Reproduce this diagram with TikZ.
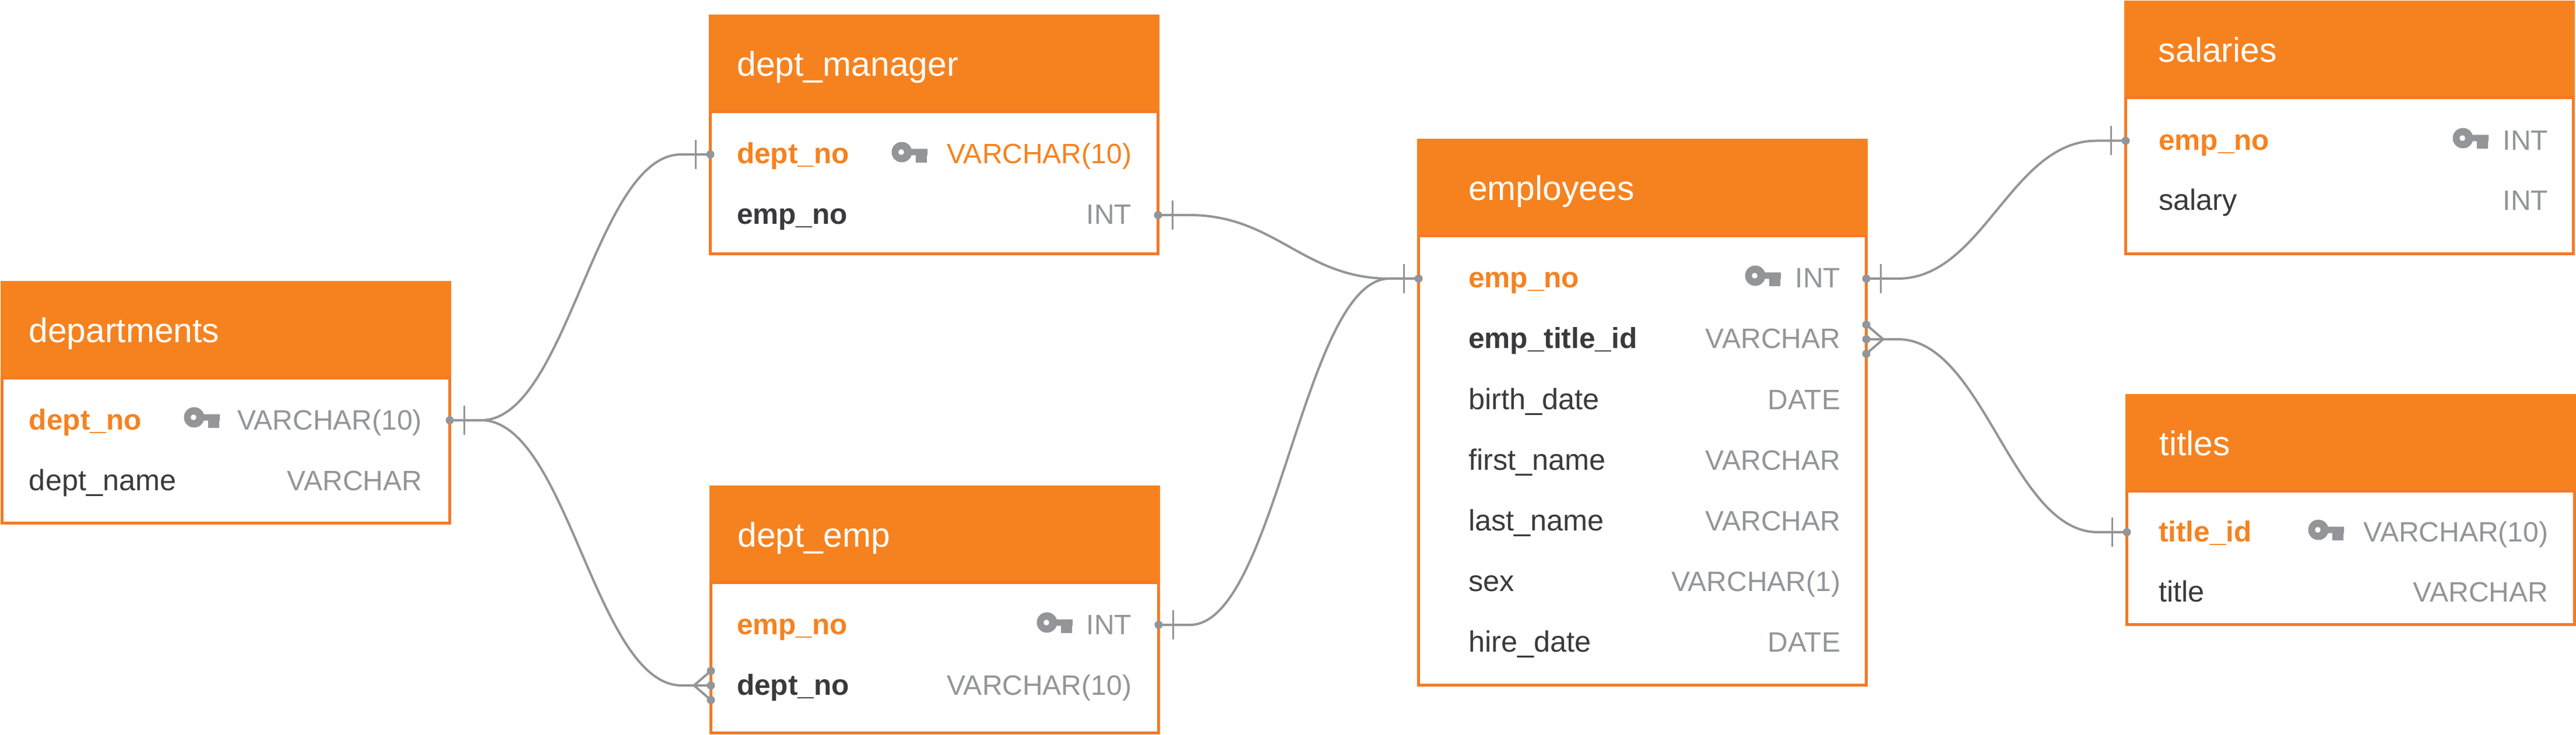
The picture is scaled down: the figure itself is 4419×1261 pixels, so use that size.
\documentclass[tikz,border=0pt]{standalone}
\usepackage{fontspec}
\setmainfont{Liberation Sans}
\usetikzlibrary{calc}
\definecolor{headorange}{HTML}{F6821F}
\definecolor{boxorange}{HTML}{F47A26}
\definecolor{linegray}{HTML}{939598}
\definecolor{fielddark}{HTML}{3A3A3C}
\newcommand{\relate}[2]{
	\coordinate (relstart) at ($(#1)+(54,0)$);
	\coordinate (relend) at ($(#2)+(-50,0)$);
	\draw[relation] (#1) -- (relstart) .. controls ($(relstart)!0.43!(relstart -| relend)$) and ($(relend)!0.43!(relend -| relstart)$) .. (relend) -- (#2);
}
\begin{document}
\begin{tikzpicture}[x=0.25pt,y=-0.25pt]
	\tikzset{tablehead/.style={draw=headorange,fill=headorange,line width=1.25pt,text=white,font=\fontsize{14.7}{16}\selectfont,anchor=north west,align=left,text width=169pt,inner xsep=11.5pt,inner ysep=0pt,outer sep=0pt,minimum height=41pt,text height=10.5pt,text depth=0pt}}
	\tikzset{tablebody/.style={draw=boxorange,fill=white,line width=1.25pt,anchor=north west,inner sep=0pt,outer sep=0pt,minimum width=192pt}}
	\tikzset{field/.style={anchor=west,inner sep=0pt,outer sep=0pt,font=\fontsize{12.6}{14}\selectfont,text=fielddark,text height=8pt,text depth=0pt}}
	\tikzset{keyfield/.style={field,font=\fontsize{12.4}{14}\selectfont\bfseries,text=headorange}}
	\tikzset{linkfield/.style={field,font=\fontsize{12.4}{14}\selectfont\bfseries}}
	\tikzset{sqltype/.style={field,anchor=east,font=\fontsize{12}{14}\selectfont,text=linegray}}
	\tikzset{relation/.style={draw=linegray,line width=1pt}}
	\tikzset{keyicon/.pic={
		\fill[linegray,even odd rule] (0,0) circle[radius=17.5] (-1,0) circle[radius=5];
		\fill[linegray] (10,-5.5) rectangle (44,5.5) (24,5.5) rectangle (43,18);
	}}
	\tikzset{onemark/.pic={
		\fill[linegray] (0,0) circle[radius=7];
		\draw[linegray,line width=0.8pt] (25,-25) -- (25,25);
	}}
	\tikzset{manymark/.pic={
		\fill[linegray] (0,-25) circle[radius=7] (0,0) circle[radius=7] (0,25) circle[radius=7];
		\draw[linegray,line width=1pt] (0,-25) -- (29,0) -- (0,25);
	}}
	\useasboundingbox (0,0) rectangle (4419,1261);

	% departments
	\node[tablehead] (departments) at (3.5,484.5) {departments};
	\node[tablebody,minimum height=62.25pt] (departments_body) at (departments.south west) {};
	\node[keyfield] (departments_dept_no) at (50,721) {dept\_no};
	\node[field] (departments_dept_name) at (50,825) {dept\_name};
	\node[sqltype] (departments_dept_no_type) at (724,721) {VARCHAR(10)};
	\node[sqltype] (departments_dept_name_type) at (724,825) {VARCHAR};
	\pic at (333,716) {keyicon};

	% dept_manager
	\node[tablehead] (dept_manager) at (1218.5,27.5) {dept\_manager};
	\node[tablebody,minimum height=61pt] (dept_manager_body) at (dept_manager.south west) {};
	\node[keyfield] (dept_manager_dept_no) at (1264,265) {dept\_no};
	\node[linkfield] (dept_manager_emp_no) at (1264,369) {emp\_no};
	\node[sqltype,text=headorange] (dept_manager_dept_no_type) at (1941,265) {VARCHAR(10)};
	\node[sqltype] (dept_manager_emp_no_type) at (1941,369) {INT};
	\pic at (1547,261) {keyicon};

	% dept_emp
	\node[tablehead] (dept_emp) at (1219.5,835.5) {dept\_emp};
	\node[tablebody,minimum height=64.5pt] (dept_emp_body) at (dept_emp.south west) {};
	\node[keyfield] (dept_emp_emp_no) at (1264,1072) {emp\_no};
	\node[linkfield] (dept_emp_dept_no) at (1264,1176) {dept\_no};
	\node[sqltype] (dept_emp_emp_no_type) at (1941,1072) {INT};
	\node[sqltype] (dept_emp_dept_no_type) at (1941,1176) {VARCHAR(10)};
	\pic at (1796,1068) {keyicon};

	% employees
	\node[tablehead,inner xsep=21.4pt,text width=149.2pt] (employees) at (2433.5,240.5) {employees};
	\node[tablebody,minimum height=192.75pt] (employees_body) at (employees.south west) {};
	\node[keyfield] (employees_emp_no) at (2519,478) {emp\_no};
	\node[linkfield] (employees_emp_title_id) at (2519,582) {emp\_title\_id};
	\node[sqltype] (employees_emp_no_type) at (3157,478) {INT};
	\node[sqltype] (employees_emp_title_id_type) at (3157,582) {VARCHAR};
	\foreach \rowname/\rowtext/\rowtype/\rowy in {birth_date/birth\_date/DATE/686,first_name/first\_name/VARCHAR/790,last_name/last\_name/VARCHAR/894,sex/sex/VARCHAR(1)/998,hire_date/hire\_date/DATE/1102}
	{
		\node[field] (employees_\rowname) at (2519,\rowy) {\rowtext};
		\node[sqltype] (employees_\rowname_type) at (3157,\rowy) {\rowtype};
	}
	\pic at (3011,473) {keyicon};

	% salaries
	\node[tablehead,inner xsep=14.1pt,text width=163.8pt] (salaries) at (3646.5,3.5) {salaries};
	\node[tablebody,minimum height=66.9pt] (salaries_body) at (salaries.south west) {};
	\node[keyfield] (salaries_emp_no) at (3703,241.5) {emp\_no};
	\node[field] (salaries_salary) at (3703,345) {salary};
	\node[sqltype] (salaries_emp_no_type) at (4371,241.5) {INT};
	\node[sqltype] (salaries_salary_type) at (4371,345) {INT};
	\pic at (4225,237) {keyicon};

	% titles
	\node[tablehead,inner xsep=14.1pt,text width=163.8pt] (titles) at (3648.5,678) {titles};
	\node[tablebody,minimum height=57.25pt] (titles_body) at (titles.south west) {};
	\node[keyfield] (titles_title_id) at (3703,913) {title\_id};
	\node[field] (titles_title) at (3703,1016) {title};
	\node[sqltype] (titles_title_id_type) at (4371,913) {VARCHAR(10)};
	\node[sqltype] (titles_title_type) at (4371,1016) {VARCHAR};
	\pic at (3977,909) {keyicon};

	% relations
	\coordinate (a) at (departments_body.east |- departments_dept_no);
	\coordinate (b) at (dept_manager_body.west |- dept_manager_dept_no);
	\coordinate (c) at (dept_emp_body.west |- dept_emp_dept_no);
	\coordinate (d) at (dept_manager_body.east |- dept_manager_emp_no);
	\coordinate (e) at (employees_body.west |- employees_emp_no);
	\coordinate (f) at (dept_emp_body.east |- dept_emp_emp_no);
	\coordinate (g) at (employees_body.east |- employees_emp_no);
	\coordinate (h) at (salaries_body.west |- salaries_emp_no);
	\coordinate (i) at (employees_body.east |- employees_emp_title_id);
	\coordinate (j) at (titles_body.west |- titles_title_id);
	\relate{a}{b}
	\relate{a}{c}
	\relate{d}{e}
	\relate{f}{e}
	\relate{g}{h}
	\relate{i}{j}
	\pic at (a) {onemark};
	\pic at (d) {onemark};
	\pic at (f) {onemark};
	\pic at (g) {onemark};
	\pic at (i) {manymark};
	\pic[xscale=-1] at (b) {onemark};
	\pic[xscale=-1] at (c) {manymark};
	\pic[xscale=-1] at (e) {onemark};
	\pic[xscale=-1] at (h) {onemark};
	\pic[xscale=-1] at (j) {onemark};
\end{tikzpicture}
\end{document}
